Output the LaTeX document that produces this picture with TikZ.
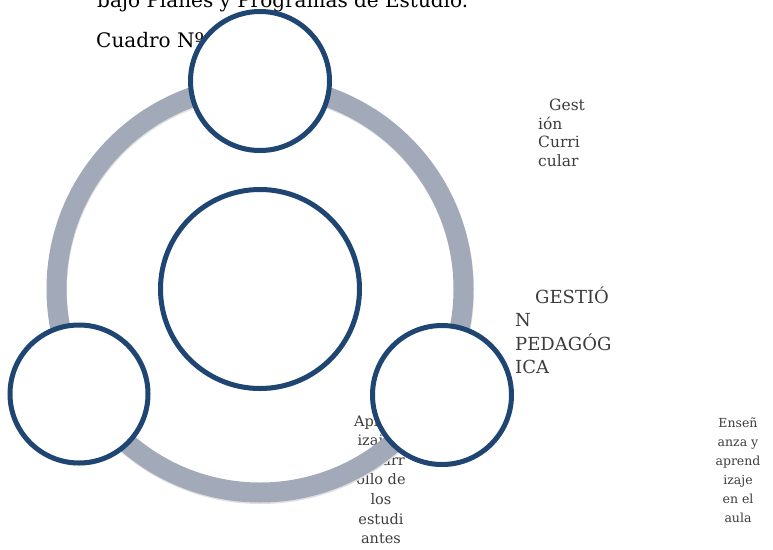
\documentclass[tikz,border=0pt]{standalone}
\usepackage{fontspec}
\setmainfont{DejaVu Serif}
\usetikzlibrary{shadows}
\definecolor{ringc}{HTML}{A2A9B8}
\definecolor{bubc}{HTML}{1F4573}
\definecolor{labc}{HTML}{3C3C3C}
\begin{document}
\begin{tikzpicture}[x=1pt,y=-1pt,
  bub/.style={circle, draw=bubc, line width=5pt, fill=white, inner sep=0pt,
    drop shadow={shadow xshift=0.5pt, shadow yshift=-2.5pt, fill=black!18, opacity=1}},
  lab/.style={inner sep=0pt, text=labc},
  body/.style={anchor=base west, inner sep=0pt, font=\fontsize{20}{24}\selectfont}
]
\useasboundingbox (0,0) rectangle (773,549);
\clip (0,0) rectangle (773,549);
% texts (multi-line nodes: base anchor = last line)
\node[body] (hdr) at (97,7) {bajo Planes y Programas de Estudio.};
\node[body] (cuadro) at (96,47) {Cuadro Nº};
\node[lab, anchor=base west, align=left, font=\fontsize{15.5}{18.5}\selectfont] (gc) at (538,166) {\hspace*{11pt}Gest\\ión\\Curri\\cular};
\node[lab, anchor=base west, align=left, font=\fontsize{18}{23.5}\selectfont] (gp) at (515,373.5) {\hspace*{20pt}GESTIÓ\\N\\PEDAGÓG\\ICA};
\node[lab, anchor=base, align=center, font=\fontsize{14.5}{19.6}\selectfont] (ap) at (381,543.6) {Aprend\\izaje y\\desarr\\ollo de\\los\\estudi\\antes};
\node[lab, anchor=base, align=center, font=\fontsize{12.5}{19}\selectfont] (ea) at (738,522) {Enseñ\\anza y\\aprend\\izaje\\en el\\aula};
% ring
\draw[black!12, line width=20pt] (260.5,290.5) circle[radius=203.5];
\draw[ringc, line width=20pt] (260,289) circle[radius=203.5];
% circles
\node[bub, minimum size=199pt] (center) at (260,289) {};
\node[bub, minimum size=139pt] (top) at (260,81) {};
\node[bub, minimum size=138pt] (left) at (79,394) {};
\node[bub, minimum size=139pt] (right) at (442,395) {};
\end{tikzpicture}
\end{document}
